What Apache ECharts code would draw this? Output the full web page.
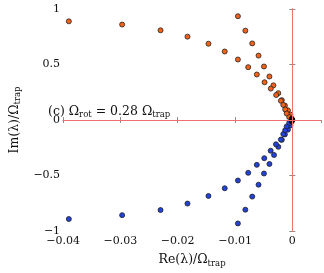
<!DOCTYPE html>
<html><head><meta charset="utf-8">
<script src="https://cdn.jsdelivr.net/npm/echarts@6/dist/echarts.min.js"></script>
<style>html,body{margin:0;padding:0;background:#fff}#c{width:324px;height:273px}</style>
</head><body><div id="c"></div>
<script>
// Upper half (orange) eigenvalues
const orangeRe = [-0.0095,-0.0082,-0.0070,-0.0059,-0.00495,-0.0040,-0.0033,-0.00245,-0.00184,-0.0013,-0.00077,-0.00033,
                  -0.0390,-0.0297,-0.0230,-0.0183,-0.01464,-0.0118,-0.0095,-0.0077,-0.0062,-0.00485,-0.00376,-0.00282,-0.0020,-0.00158,-0.00125,-0.00099,-0.00055];
const orangeIm = [0.935,0.805,0.690,0.580,0.482,0.392,0.312,0.242,0.179,0.130,0.087,0.049,
                  0.889,0.860,0.808,0.751,0.687,0.617,0.545,0.476,0.410,0.340,0.283,0.225,0.173,0.136,0.095,0.058,0.026];
// Lower half (blue) eigenvalues
const blueRe = [-0.0095,-0.0082,-0.0070,-0.0059,-0.00495,-0.0040,-0.0032,-0.00245,-0.00184,-0.0013,-0.00077,-0.00033,
                -0.0390,-0.0297,-0.0230,-0.0183,-0.01464,-0.0118,-0.0095,-0.0077,-0.0062,-0.0049,-0.00378,-0.00286,-0.0020,-0.00158,-0.00125,-0.00099,-0.00055];
const blueIm = [-0.932,-0.808,-0.690,-0.583,-0.482,-0.396,-0.315,-0.242,-0.179,-0.130,-0.087,-0.049,
                -0.892,-0.857,-0.811,-0.753,-0.684,-0.615,-0.545,-0.476,-0.404,-0.344,-0.277,-0.219,-0.176,-0.127,-0.092,-0.058,-0.026];
// Near-zero eigenvalues (black)
const blackRe = [0, -0.0001, -0.0001];
const blackIm = [0, 0.012, -0.012];
const xTicks = [-0.04,-0.03,-0.02,-0.01,0];
const yTicks = [-1,-0.5,0,0.5,1];

const zip = (a,b)=>a.map((v,i)=>[v,b[i]]);
const fmt = v => String(v).replace('-', '\u2212');
const serif = 'DejaVu Serif';
const frame = '#8c8c8c';
const nameRich = {
  n:{fontFamily:serif,fontSize:12.5,color:'#111'},
  s:{fontFamily:serif,fontSize:8.5,color:'#111',padding:[7,0,0,0]}
};
const chart = echarts.init(document.getElementById('c'), null, {renderer:'canvas'});
chart.setOption({
  animation:false,
  grid:{left:45,top:9,right:3,bottom:33,containLabel:false},
  xAxis:[{
    type:'value',min:-0.04,max:0.005,interval:0.01,
    axisLine:{lineStyle:{color:frame,width:1}},
    axisTick:{inside:true,length:3,lineStyle:{color:frame}},
    splitLine:{show:false},
    axisLabel:{showMaxLabel:false,fontFamily:serif,fontSize:11,color:'#111',margin:5,
      formatter:v=>xTicks.some(t=>Math.abs(t-v)<1e-9)?fmt(Math.round(v*100)/100):''},
    name:'{n|Re(λ)/Ω}{s|trap}',nameLocation:'middle',nameGap:21,
    nameTextStyle:{rich:nameRich}
  },{
    type:'value',position:'top',min:-0.04,max:0.005,interval:0.01,
    axisLine:{lineStyle:{color:frame}},axisTick:{inside:true,length:3,lineStyle:{color:frame}},
    axisLabel:{show:false},splitLine:{show:false}
  }],
  yAxis:[{
    type:'value',min:-1,max:1,interval:0.5,
    axisLine:{lineStyle:{color:frame,width:1}},
    axisTick:{inside:true,length:3,lineStyle:{color:frame}},
    splitLine:{show:false},
    axisLabel:{fontFamily:serif,fontSize:11,color:'#111',margin:3,formatter:v=>fmt(v)},
    name:'{n|Im(λ)/Ω}{s|trap}',nameLocation:'middle',nameGap:28,nameRotate:90,
    nameTextStyle:{rich:nameRich}
  },{
    type:'value',position:'right',min:-1,max:1,interval:0.5,
    axisLine:{lineStyle:{color:frame}},axisTick:{inside:true,length:3,lineStyle:{color:frame}},
    axisLabel:{show:false},splitLine:{show:false}
  }],
  series:[
    {type:'line',data:[],silent:true,
     markLine:{silent:true,symbol:'none',label:{show:false},
       lineStyle:{color:'#f07070',width:1,type:'solid'},
       data:[{xAxis:0},{yAxis:0}]}},
    {type:'scatter',data:zip(orangeRe,orangeIm),symbol:'circle',symbolSize:5,
     itemStyle:{color:'#f2621a',borderColor:'#222',borderWidth:0.8,opacity:1}},
    {type:'scatter',data:zip(blueRe,blueIm),symbol:'circle',symbolSize:5,
     itemStyle:{color:'#2242d8',borderColor:'#222',borderWidth:0.8,opacity:1}},
    {type:'scatter',data:zip(blackRe,blackIm),symbol:'circle',symbolSize:5,
     itemStyle:{color:'#111',borderColor:'#000',borderWidth:0.8,opacity:1}}
  ],
  graphic:[{
    type:'text',left:48,top:105,z:100,
    style:{
      text:'{a|(c) Ω}{s|rot}{a| = 0.28 Ω}{s|trap}',
      rich:{
        a:{fontFamily:serif,fontSize:12.5,fill:'#111',color:'#111'},
        s:{fontFamily:serif,fontSize:8.5,fill:'#111',color:'#111',padding:[7,0,0,0]}
      }
    }
  }]
});
</script></body></html>
